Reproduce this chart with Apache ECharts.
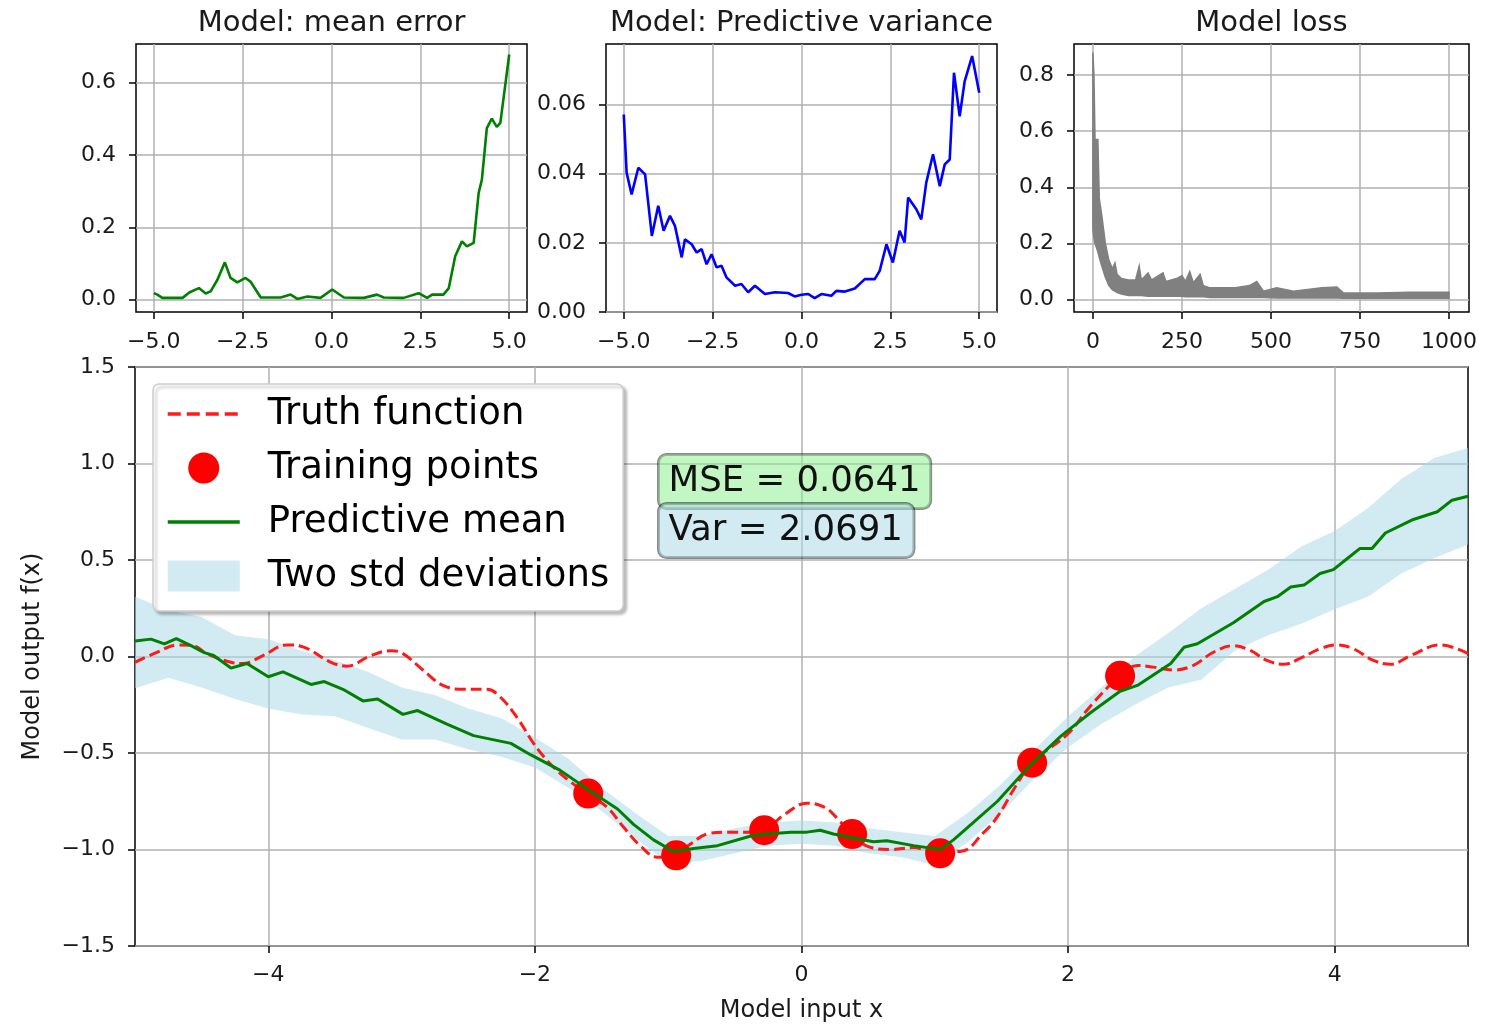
<!DOCTYPE html>
<html>
<head>
<meta charset="utf-8">
<script src="https://cdn.jsdelivr.net/npm/echarts@6/dist/echarts.min.js"></script>
<style>
  html, body { margin: 0; padding: 0; background: #fff; }
  #chart { width: 1486px; height: 1028px; }
</style>
</head>
<body>
<div id="chart"></div>
<script>
// ---------- Model: mean error (per input x) ----------
const errX = [-5.0, -4.9, -4.76, -4.19, -4.0, -3.73, -3.54, -3.4, -3.21, -3.0, -2.84, -2.65, -2.42, -2.28, -1.99, -1.43, -1.15, -0.96, -0.68, -0.31, 0.02, 0.35, 0.91, 1.28, 1.47, 2.03, 2.45, 2.69, 2.83, 3.15, 3.3, 3.48, 3.67, 3.81, 4.0, 4.14, 4.23, 4.37, 4.51, 4.65, 4.75, 5.0];
const errY = [0.018, 0.014, 0.005, 0.005, 0.02, 0.032, 0.017, 0.023, 0.055, 0.103, 0.06, 0.048, 0.06, 0.05, 0.006, 0.006, 0.014, 0.002, 0.009, 0.005, 0.028, 0.006, 0.005, 0.014, 0.006, 0.005, 0.018, 0.005, 0.014, 0.014, 0.032, 0.12, 0.161, 0.147, 0.157, 0.295, 0.331, 0.474, 0.50, 0.477, 0.488, 0.677];

// ---------- Model: predictive variance (per input x) ----------
const varX = [-5.0, -4.92, -4.78, -4.59, -4.4, -4.21, -4.03, -3.88, -3.7, -3.56, -3.37, -3.28, -3.09, -2.95, -2.81, -2.67, -2.53, -2.39, -2.25, -2.11, -1.87, -1.69, -1.5, -1.31, -1.03, -0.75, -0.38, -0.19, 0.0, 0.19, 0.37, 0.56, 0.84, 0.98, 1.22, 1.5, 1.78, 2.06, 2.2, 2.39, 2.57, 2.76, 2.9, 3.0, 3.23, 3.37, 3.51, 3.7, 3.89, 4.03, 4.17, 4.29, 4.45, 4.59, 4.8, 5.0];
const varY = [0.0571, 0.0403, 0.034, 0.0417, 0.0398, 0.022, 0.0307, 0.0235, 0.0278, 0.0249, 0.0158, 0.021, 0.0196, 0.0172, 0.0182, 0.0138, 0.0167, 0.0129, 0.0134, 0.010, 0.0076, 0.0081, 0.0057, 0.0076, 0.0052, 0.0057, 0.0055, 0.0045, 0.005, 0.0052, 0.004, 0.0052, 0.0047, 0.0061, 0.0059, 0.0068, 0.0095, 0.0095, 0.0119, 0.0196, 0.0143, 0.0235, 0.0201, 0.0331, 0.0297, 0.0268, 0.0374, 0.0456, 0.0364, 0.0427, 0.0441, 0.0692, 0.0566, 0.0667, 0.074, 0.0634];

// ---------- Model loss (noisy per-epoch loss: upper / lower envelope) ----------
const lossEpoch = [0, 3, 6, 14, 18, 25, 35, 45, 55, 62, 68, 80, 100, 120, 130, 136, 155, 165, 197, 205, 235, 250, 260, 272, 282, 301, 310, 329, 400, 440, 460, 479, 516, 563, 643, 685, 703, 796, 890, 1000];
const lossHi = [0.88, 0.80, 0.57, 0.57, 0.36, 0.30, 0.20, 0.14, 0.11, 0.13, 0.09, 0.075, 0.07, 0.07, 0.12, 0.07, 0.095, 0.07, 0.095, 0.065, 0.075, 0.085, 0.065, 0.10, 0.06, 0.09, 0.05, 0.042, 0.042, 0.05, 0.065, 0.03, 0.042, 0.03, 0.042, 0.045, 0.024, 0.024, 0.026, 0.026];
const lossLo = [0.25, 0.22, 0.20, 0.17, 0.15, 0.12, 0.08, 0.05, 0.035, 0.03, 0.025, 0.02, 0.015, 0.015, 0.015, 0.015, 0.012, 0.012, 0.012, 0.012, 0.012, 0.012, 0.01, 0.01, 0.01, 0.01, 0.01, 0.008, 0.008, 0.008, 0.008, 0.008, 0.006, 0.006, 0.006, 0.006, 0.005, 0.005, 0.005, 0.005];

// ---------- Main panel: truth function ----------
const truthX = [-5.0, -4.84, -4.68, -4.56, -4.46, -4.28, -4.19, -4.04, -3.86, -3.74, -3.53, -3.41, -3.23, -3.08, -2.99, -2.84, -2.69, -2.54, -2.36, -2.26, -2.13, -2.01, -1.88, -1.75, -1.61, -1.46, -1.34, -1.21, -1.08, -0.96, -0.83, -0.71, -0.56, -0.38, -0.26, -0.13, 0.04, 0.17, 0.27, 0.39, 0.52, 0.67, 0.84, 0.99, 1.19, 1.37, 1.47, 1.6, 1.73, 2.0, 2.14, 2.29, 2.39, 2.52, 2.64, 2.79, 2.94, 3.09, 3.24, 3.37, 3.49, 3.62, 3.74, 3.89, 4.02, 4.14, 4.29, 4.42, 4.57, 4.79, 5.0];
const truthY = [-0.03, 0.02, 0.06, 0.056, 0.014, -0.03, -0.036, 0.005, 0.06, 0.05, -0.03, -0.05, 0.005, 0.03, 0.015, -0.07, -0.15, -0.17, -0.17, -0.21, -0.32, -0.45, -0.56, -0.64, -0.71, -0.78, -0.88, -0.98, -1.04, -1.03, -0.97, -0.92, -0.91, -0.91, -0.89, -0.82, -0.76, -0.78, -0.84, -0.93, -0.99, -1.0, -0.99, -1.01, -1.01, -0.91, -0.83, -0.68, -0.55, -0.40, -0.28, -0.165, -0.10, -0.046, -0.055, -0.07, -0.046, 0.022, 0.056, 0.03, -0.02, -0.04, -0.01, 0.04, 0.06, 0.04, -0.02, -0.04, 0.005, 0.06, 0.015];

// ---------- Main panel: predictive mean ----------
const meanX = [-5.0, -4.88, -4.78, -4.69, -4.58, -4.48, -4.41, -4.28, -4.16, -4.0, -3.89, -3.68, -3.58, -3.44, -3.29, -3.18, -2.99, -2.88, -2.66, -2.46, -2.18, -2.03, -1.81, -1.58, -1.38, -1.26, -1.11, -0.96, -0.81, -0.63, -0.38, -0.26, -0.08, 0.04, 0.14, 0.24, 0.39, 0.54, 0.64, 0.84, 1.04, 1.14, 1.29, 1.47, 1.72, 1.95, 2.17, 2.39, 2.52, 2.77, 2.87, 2.97, 3.24, 3.47, 3.57, 3.67, 3.77, 3.89, 3.99, 4.09, 4.19, 4.28, 4.38, 4.59, 4.77, 4.88, 5.0];
const meanY = [0.08, 0.09, 0.065, 0.093, 0.056, 0.02, 0.005, -0.06, -0.036, -0.105, -0.08, -0.145, -0.13, -0.17, -0.23, -0.22, -0.30, -0.28, -0.35, -0.41, -0.45, -0.51, -0.59, -0.70, -0.79, -0.87, -0.95, -1.01, -0.995, -0.98, -0.93, -0.92, -0.91, -0.91, -0.90, -0.92, -0.94, -0.96, -0.955, -0.98, -1.0, -0.95, -0.86, -0.75, -0.56, -0.41, -0.29, -0.18, -0.15, -0.036, 0.048, 0.066, 0.175, 0.285, 0.31, 0.36, 0.37, 0.43, 0.45, 0.505, 0.56, 0.56, 0.64, 0.71, 0.75, 0.81, 0.83];

// ---------- Main panel: two std deviation band ----------
const bandX = [-5.0, -4.75, -4.5, -4.25, -4.0, -3.75, -3.5, -3.25, -3.0, -2.75, -2.5, -2.25, -2.0, -1.75, -1.5, -1.25, -1.0, -0.75, -0.5, -0.25, 0.0, 0.25, 0.5, 0.75, 1.0, 1.25, 1.5, 1.75, 2.0, 2.25, 2.5, 2.75, 3.0, 3.25, 3.5, 3.75, 4.0, 4.25, 4.5, 4.75, 5.0];
const bandHi = [0.31, 0.24, 0.205, 0.11, 0.09, 0.03, -0.02, -0.08, -0.16, -0.20, -0.27, -0.32, -0.42, -0.53, -0.68, -0.81, -0.93, -0.93, -0.89, -0.86, -0.85, -0.86, -0.89, -0.91, -0.93, -0.81, -0.66, -0.48, -0.31, -0.16, 0.0, 0.12, 0.25, 0.35, 0.45, 0.57, 0.65, 0.77, 0.92, 1.03, 1.08];
const bandLo = [-0.165, -0.11, -0.16, -0.22, -0.27, -0.30, -0.31, -0.37, -0.43, -0.43, -0.48, -0.52, -0.575, -0.68, -0.80, -0.94, -1.07, -1.06, -1.02, -0.98, -0.97, -0.98, -1.02, -1.04, -1.08, -0.96, -0.81, -0.63, -0.47, -0.35, -0.25, -0.16, -0.12, 0.03, 0.11, 0.17, 0.245, 0.31, 0.43, 0.51, 0.58];

// ---------- Main panel: training points ----------
const trainX = [-1.6, -0.94, -0.28, 0.38, 1.04, 1.73, 2.39];
const trainY = [-0.71, -1.03, -0.90, -0.92, -1.02, -0.55, -0.10];

// ---------- Tick values ----------
const errXTicks = [-5, -2.5, 0, 2.5, 5];
const errYTicks = [0, 0.2, 0.4, 0.6];
const varYTicks = [0, 0.02, 0.04, 0.06];
const lossXTicks = [0, 250, 500, 750, 1000];
const lossYTicks = [0, 0.2, 0.4, 0.6, 0.8];
const mainXTicks = [-4, -2, 0, 2, 4];
const mainYTicks = [-1.5, -1.0, -0.5, 0, 0.5, 1.0, 1.5];

const FONT = 'DejaVu Sans';
const BAND = 'rgba(173,216,230,0.55)';
const zip = (a, b) => a.map((v, i) => [v, b[i]]);
const minus = s => s.replace('-', '\u2212');

function valueAxis(gridIndex, min, max, ticks, digits, margin, extra) {
  return Object.assign({
    type: 'value', gridIndex: gridIndex, min: min, max: max,
    axisLine: { show: false, onZero: false },
    axisTick: { show: true, length: 7, customValues: ticks, lineStyle: { color: '#000', width: 1.5 } },
    axisLabel: {
      customValues: ticks,
      formatter: v => minus(Number(v).toFixed(digits)),
      color: '#1a1a1a', fontSize: 22, fontFamily: FONT, margin: margin
    },
    splitLine: { show: true, lineStyle: { color: '#b0b0b0', width: 1.5 } }
  }, extra || {});
}

// filled region between an upper and a lower curve, placed through the axis scales
function bandRenderer(xs, hi, lo, fill, stroke) {
  return function (params, api) {
    if (params.dataIndex !== 0) return null;
    const pts = [];
    for (let i = 0; i < xs.length; i++) pts.push(api.coord([xs[i], hi[i]]));
    for (let i = xs.length - 1; i >= 0; i--) pts.push(api.coord([xs[i], lo[i]]));
    return {
      type: 'polygon',
      shape: { points: pts },
      style: { fill: fill, stroke: stroke || null, lineWidth: stroke ? 1.5 : 0 }
    };
  };
}

const gridBase = { show: true, borderColor: '#000', borderWidth: 1.5, backgroundColor: '#fff' };
const titleStyle = { fontSize: 29, fontWeight: 'normal', fontFamily: FONT, color: '#1a1a1a' };
const nameStyle = { fontSize: 24, fontFamily: FONT, color: '#1a1a1a' };

const option = {
  animation: false,
  backgroundColor: '#fff',
  title: [
    { text: 'Model: mean error', left: 331.5, top: 9, textAlign: 'center', padding: 0, textStyle: titleStyle },
    { text: 'Model: Predictive variance', left: 801.5, top: 9, textAlign: 'center', padding: 0, textStyle: titleStyle },
    { text: 'Model loss', left: 1271.5, top: 9, textAlign: 'center', padding: 0, textStyle: titleStyle }
  ],
  grid: [
    Object.assign({ left: 136, top: 44, width: 391, height: 268 }, gridBase),
    Object.assign({ left: 606, top: 44, width: 391, height: 268 }, gridBase),
    Object.assign({ left: 1074, top: 44, width: 395, height: 268 }, gridBase),
    Object.assign({ left: 135, top: 367, width: 1333, height: 588 }, gridBase)
  ],
  xAxis: [
    valueAxis(0, -5.5, 5.5, errXTicks, 1, 19),
    valueAxis(1, -5.5, 5.5, errXTicks, 1, 19),
    valueAxis(2, -53, 1056, lossXTicks, 0, 19),
    valueAxis(3, -5, 5, mainXTicks, 0, 18, {
      name: 'Model input x', nameLocation: 'middle', nameGap: 53, nameTextStyle: nameStyle
    })
  ],
  yAxis: [
    valueAxis(0, -0.034, 0.706, errYTicks, 1, 20),
    valueAxis(1, 0, 0.0775, varYTicks, 2, 20),
    valueAxis(2, -0.044, 0.91, lossYTicks, 1, 20),
    valueAxis(3, -1.5, 1.5, mainYTicks, 1, 20, {
      name: 'Model output f(x)', nameLocation: 'middle', nameGap: 90, nameTextStyle: nameStyle
    })
  ],
  legend: {
    orient: 'vertical', left: 153, top: 384,
    padding: [10, 14, 15, 13],
    itemGap: 14, itemWidth: 72, itemHeight: 31,
    selectedMode: false,
    backgroundColor: '#fff', borderColor: '#cccccc', borderWidth: 1.5, borderRadius: 6,
    shadowColor: 'rgba(0,0,0,0.25)', shadowBlur: 3, shadowOffsetX: 3, shadowOffsetY: 3,
    textStyle: { fontSize: 37, fontFamily: FONT, color: '#000', lineHeight: 40, padding: [0, 0, 0, 23] },
    data: [
      { name: 'Truth function', itemStyle: { opacity: 0 }, lineStyle: { width: 3.5, type: [13, 6] } },
      { name: 'Training points' },
      { name: 'Predictive mean', itemStyle: { opacity: 0 }, lineStyle: { width: 3.5 } },
      { name: 'Two std deviations', icon: 'rect', itemStyle: { color: BAND } }
    ]
  },
  graphic: [
    {
      type: 'text', left: 657, top: 453, z: 100,
      style: {
        text: 'MSE = 0.0641', font: '35.5px "DejaVu Sans"', fill: '#111',
        backgroundColor: 'rgba(144,238,144,0.55)', borderColor: 'rgba(0,0,0,0.45)', borderWidth: 1.5,
        borderRadius: 8, padding: [9, 10, 9, 10]
      }
    },
    {
      type: 'text', left: 657, top: 502, z: 101,
      style: {
        text: 'Var = 2.0691', font: '35.5px "DejaVu Sans"', fill: '#111',
        backgroundColor: 'rgba(173,216,230,0.55)', borderColor: 'rgba(0,0,0,0.45)', borderWidth: 1.5,
        borderRadius: 8, padding: [9, 11, 9, 10]
      }
    }
  ],
  series: [
    {
      name: 'mean error', type: 'line', xAxisIndex: 0, yAxisIndex: 0,
      data: zip(errX, errY), symbol: 'none',
      lineStyle: { color: '#008000', width: 2.6 }, itemStyle: { color: '#008000' }
    },
    {
      name: 'predictive variance', type: 'line', xAxisIndex: 1, yAxisIndex: 1,
      data: zip(varX, varY), symbol: 'none',
      lineStyle: { color: '#0000ff', width: 2.6 }, itemStyle: { color: '#0000ff' }
    },
    {
      name: 'loss', type: 'custom', xAxisIndex: 2, yAxisIndex: 2,
      data: lossEpoch.map((e, i) => [e, lossLo[i], lossHi[i]]),
      encode: { x: 0, y: [1, 2] },
      renderItem: bandRenderer(lossEpoch, lossHi, lossLo, '#808080', '#808080'),
      itemStyle: { color: '#808080' }
    },
    {
      name: 'Two std deviations', type: 'custom', xAxisIndex: 3, yAxisIndex: 3, z: 1,
      data: bandX.map((x, i) => [x, bandLo[i], bandHi[i]]),
      encode: { x: 0, y: [1, 2] },
      renderItem: bandRenderer(bandX, bandHi, bandLo, BAND, null),
      itemStyle: { color: BAND }
    },
    {
      name: 'Truth function', type: 'line', xAxisIndex: 3, yAxisIndex: 3, z: 2,
      data: zip(truthX, truthY), symbol: 'none', smooth: 0.4,
      lineStyle: { color: '#ff1a1a', width: 3, type: [11, 5] }, itemStyle: { color: '#ff1a1a' }
    },
    {
      name: 'Training points', type: 'scatter', xAxisIndex: 3, yAxisIndex: 3, z: 3,
      data: zip(trainX, trainY), symbol: 'circle', symbolSize: 30,
      itemStyle: { color: '#ff0000', opacity: 1 }
    },
    {
      name: 'Predictive mean', type: 'line', xAxisIndex: 3, yAxisIndex: 3, z: 4,
      data: zip(meanX, meanY), symbol: 'none',
      lineStyle: { color: '#008000', width: 3 }, itemStyle: { color: '#008000' }
    }
  ]
};

const chart = echarts.init(document.getElementById('chart'), null, { renderer: 'canvas' });
chart.setOption(option);
</script>
</body>
</html>
